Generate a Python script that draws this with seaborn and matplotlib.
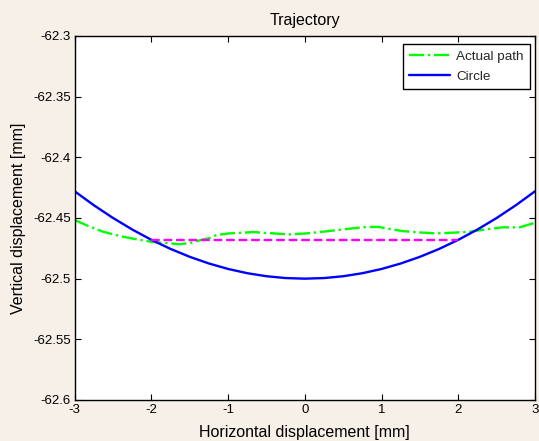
import matplotlib
matplotlib.use("Agg")
import matplotlib.pyplot as plt
import numpy as np
import pandas as pd
import seaborn as sns

# Data
circle_x = [-3.0, -2.75, -2.5, -2.25, -2.0, -1.75, -1.5, -1.25, -1.0, -0.75, -0.5, -0.25,
            0.0, 0.25, 0.5, 0.75, 1.0, 1.25, 1.5, 1.75, 2.0, 2.25, 2.5, 2.75, 3.0]
circle_y = [-62.428, -62.4395, -62.450, -62.4595, -62.468, -62.4755, -62.482, -62.4875,
            -62.492, -62.4955, -62.498, -62.4995, -62.500, -62.4995, -62.498, -62.4955,
            -62.492, -62.4875, -62.482, -62.4755, -62.468, -62.4595, -62.450, -62.4395,
            -62.428]

path_x = [-3.00, -2.80, -2.63, -2.41, -2.19, -1.98, -1.76, -1.63, -1.50, -1.37, -1.24,
          -1.15, -0.98, -0.67, -0.41, -0.20, 0.02, 0.28, 0.54, 0.80, 0.97, 1.06, 1.28,
          1.50, 1.71, 1.93, 2.15, 2.36, 2.58, 2.80, 3.00]
path_y = [-62.4517, -62.4572, -62.4613, -62.4649, -62.4676, -62.4698, -62.4709, -62.4716,
          -62.4706, -62.4684, -62.4665, -62.4640, -62.4627, -62.4616, -62.4627, -62.4635,
          -62.4627, -62.4610, -62.4591, -62.4574, -62.4574, -62.4586, -62.4608, -62.4619,
          -62.4627, -62.4621, -62.4613, -62.4594, -62.4577, -62.4577, -62.4539]

chord_x = [-2.0, 2.0]
chord_y = [-62.468, -62.468]

x_ticks = [-3, -2, -1, 0, 1, 2, 3]
y_ticks = [-62.6, -62.55, -62.5, -62.45, -62.4, -62.35, -62.3]
y_tick_labels = ["-62.6", "-62.55", "-62.5", "-62.45", "-62.4", "-62.35", "-62.3"]

df_path = pd.DataFrame({"x": path_x, "y": path_y})
df_circle = pd.DataFrame({"x": circle_x, "y": circle_y})
df_chord = pd.DataFrame({"x": chord_x, "y": chord_y})

sns.set_theme(style="white", rc={
    "xtick.direction": "in",
    "ytick.direction": "in",
    "xtick.top": True,
    "ytick.right": True,
    "xtick.bottom": True,
    "ytick.left": True,
    "axes.edgecolor": "black",
    "axes.linewidth": 1.0,
})
plt.rcParams["font.family"] = ["Liberation Sans", "DejaVu Sans"]

fig = plt.figure(figsize=(5.39, 4.41), dpi=100)
fig.patch.set_facecolor("#f6f0e9")
ax = fig.add_axes([74.7 / 539, 1 - 400 / 441, (535 - 74.7) / 539, 364 / 441])
ax.set_facecolor("white")

sns.lineplot(data=df_path, x="x", y="y", ax=ax, color="#00ff00", linestyle="-.",
             linewidth=1.7, label="Actual path", estimator=None, sort=False)
sns.lineplot(data=df_circle, x="x", y="y", ax=ax, color="#0000ff", linestyle="-",
             linewidth=1.7, label="Circle", estimator=None, sort=False)
sns.lineplot(data=df_chord, x="x", y="y", ax=ax, color="#ff00ff", linestyle="--",
             linewidth=1.7, estimator=None, sort=False)

ax.set_xlim(-3, 3)
ax.set_ylim(-62.6, -62.3)
ax.set_xticks(x_ticks)
ax.set_xticklabels([str(t) for t in x_ticks])
ax.set_yticks(y_ticks)
ax.set_yticklabels(y_tick_labels)
ax.tick_params(axis="both", labelsize=9.5, length=4, width=0.8, color="black",
               labelcolor="black", pad=3)

ax.set_title("Trajectory", fontsize=11.5, color="black", pad=8)
ax.set_xlabel("Horizontal displacement [mm]", fontsize=11.5, color="black", labelpad=6)
ax.set_ylabel("Vertical displacement [mm]", fontsize=11.5, color="black", labelpad=5)

leg = ax.legend(loc="upper right", bbox_to_anchor=(0.989, 0.978), borderaxespad=0,
                fontsize=9.7, frameon=True, fancybox=False, edgecolor="black",
                handlelength=3.0, handletextpad=0.5, labelspacing=0.6, borderpad=0.45,
                framealpha=1)
leg.get_frame().set_linewidth(1.0)

plt.savefig("out.png", dpi=100, facecolor=fig.get_facecolor())
plt.close()
